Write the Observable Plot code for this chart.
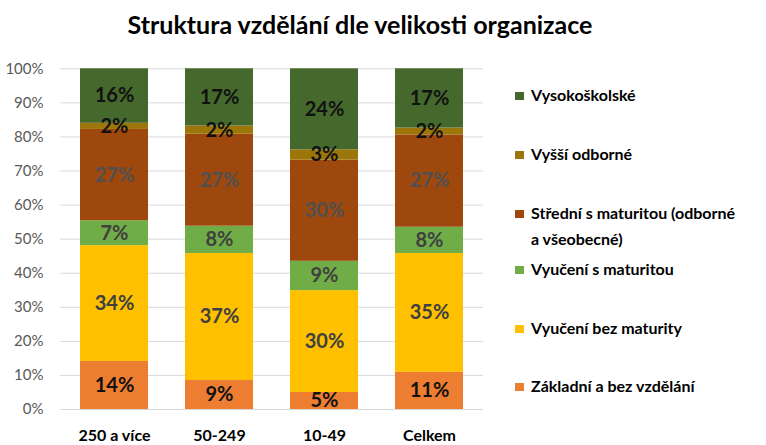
<!DOCTYPE html>
<html>
<head>
<meta charset="utf-8">
<script src="https://cdn.jsdelivr.net/npm/d3@7"></script>
<script src="https://cdn.jsdelivr.net/npm/@observablehq/plot@0.6"></script>
<style>
  html, body { margin: 0; padding: 0; background: #fff; }
  #wrap { position: relative; width: 766px; height: 445px; overflow: hidden; font-family: Lato, "Open Sans", sans-serif; }
  #title { position: absolute; left: 0; width: 720px; top: 8px; text-align: center; font-size: 25px; font-weight: bold; color: #000; height: 40px; line-height: 32px; }
  #chart { position: absolute; left: 0; top: 50px; }
  #legend { position: absolute; left: 515px; top: 0; }
  .item { position: absolute; left: 0; white-space: nowrap; font-size: 16px; font-weight: bold; color: #000; line-height: 26px; }
  .sw { display: inline-block; width: 9px; height: 8px; margin-right: 7px; vertical-align: 1px; }
  .txt { display: inline-block; vertical-align: top; }
</style>
</head>
<body>
<div id="wrap">
  <div id="title"></div>
  <div id="chart"></div>
  <div id="legend"></div>
</div>
<script>
const titleText = "Struktura vzdělání dle velikosti organizace";
const categories = ["250 a více", "50-249", "10-49", "Celkem"];
const series = [
  "Základní a bez vzdělání",
  "Vyučení bez maturity",
  "Vyučení s maturitou",
  "Střední s maturitou (odborné a všeobecné)",
  "Vyšší odborné",
  "Vysokoškolské"
];
const legendLines = [
  ["Základní a bez vzdělání"],
  ["Vyučení bez maturity"],
  ["Vyučení s maturitou"],
  ["Střední s maturitou (odborné", "a všeobecné)"],
  ["Vyšší odborné"],
  ["Vysokoškolské"]
];
const colors = ["#ED7D31", "#FFC000", "#70AD47", "#9E480E", "#9C7608", "#45692D"];
const labelColors = ["#111111", "#404040", "#404040", "#505050", "#111111", "#111111"];
// values in % (bottom to top)
const zakladni   = [14.1, 8.5, 5.0, 10.9];
const vyuceniBez = [34.0, 37.3, 29.9, 34.9];
const vyuceniS   = [7.3, 8.0, 8.6, 7.7];
const stredni    = [26.8, 27.0, 29.7, 27.1];
const vyssi      = [1.8, 2.4, 3.0, 2.0];
const vysoko     = [16.0, 16.8, 23.8, 17.4];
const yTicks = [0, 10, 20, 30, 40, 50, 60, 70, 80, 90, 100];

const valuesBySeries = [zakladni, vyuceniBez, vyuceniS, stredni, vyssi, vysoko];
const data = [];
categories.forEach((c, ci) => {
  series.forEach((s, si) => {
    data.push({cat: c, series: s, si, value: valuesBySeries[si][ci]});
  });
});

document.getElementById("title").textContent = titleText;

const textMarks = series.map((s, si) =>
  Plot.text(data, Plot.filter(d => d.si === si, Plot.stackY({
    x: "cat", y: "value",
    text: d => Math.round(d.value) + "%",
    fill: labelColors[si],
    fontSize: 20, fontWeight: "bold",
    fontFamily: "Lato, 'Open Sans', sans-serif"
  })))
);

const chart = Plot.plot({
  width: 500,
  height: 395,
  marginTop: 18.3,
  marginBottom: 36,
  marginLeft: 60,
  marginRight: 17,
  style: {fontFamily: "Lato, 'Open Sans', sans-serif", background: "#fff", overflow: "visible"},
  x: {domain: categories, paddingInner: 0.355, paddingOuter: 0.1775, label: null, tickSize: 0, tickPadding: 20},
  y: {domain: [0, 100], ticks: yTicks, tickFormat: d => d + "%", label: null, tickSize: 0, tickPadding: 17},
  color: {domain: series, range: colors},
  marks: [
    Plot.ruleY(yTicks, {stroke: "#d9d9d9", strokeWidth: 1}),
    Plot.barY(data, Plot.stackY({x: "cat", y: "value", fill: "series"})),
    ...textMarks
  ]
});

// style axes
chart.querySelectorAll('g[aria-label="y-axis tick label"] text, g[aria-label="y-axis"] text').forEach(t => {
  t.setAttribute("font-size", "15"); t.style.fontSize = "15px"; t.setAttribute("fill", "#595959");
});
chart.querySelectorAll('g[aria-label="y-axis tick label"], g[aria-label="y-axis"]').forEach(g => {
  g.setAttribute("font-size", "15"); g.setAttribute("fill", "#595959");
});
chart.querySelectorAll('g[aria-label="x-axis tick label"], g[aria-label="x-axis"]').forEach(g => {
  g.setAttribute("font-size", "16"); g.setAttribute("font-weight", "bold"); g.setAttribute("fill", "#000");
});
document.getElementById("chart").appendChild(chart);

// legend
const tops = [386, 328, 269, 213, 154, 95];
const legend = document.getElementById("legend");
legendLines.forEach((lines, i) => {
  const item = document.createElement("div");
  item.className = "item";
  item.style.top = (tops[i] - 13) + "px";
  const sw = document.createElement("span");
  sw.className = "sw"; sw.style.background = colors[i];
  const txt = document.createElement("span");
  txt.className = "txt";
  txt.innerHTML = lines.join("<br>");
  item.appendChild(sw); item.appendChild(txt);
  legend.appendChild(item);
});
</script>
</body>
</html>
